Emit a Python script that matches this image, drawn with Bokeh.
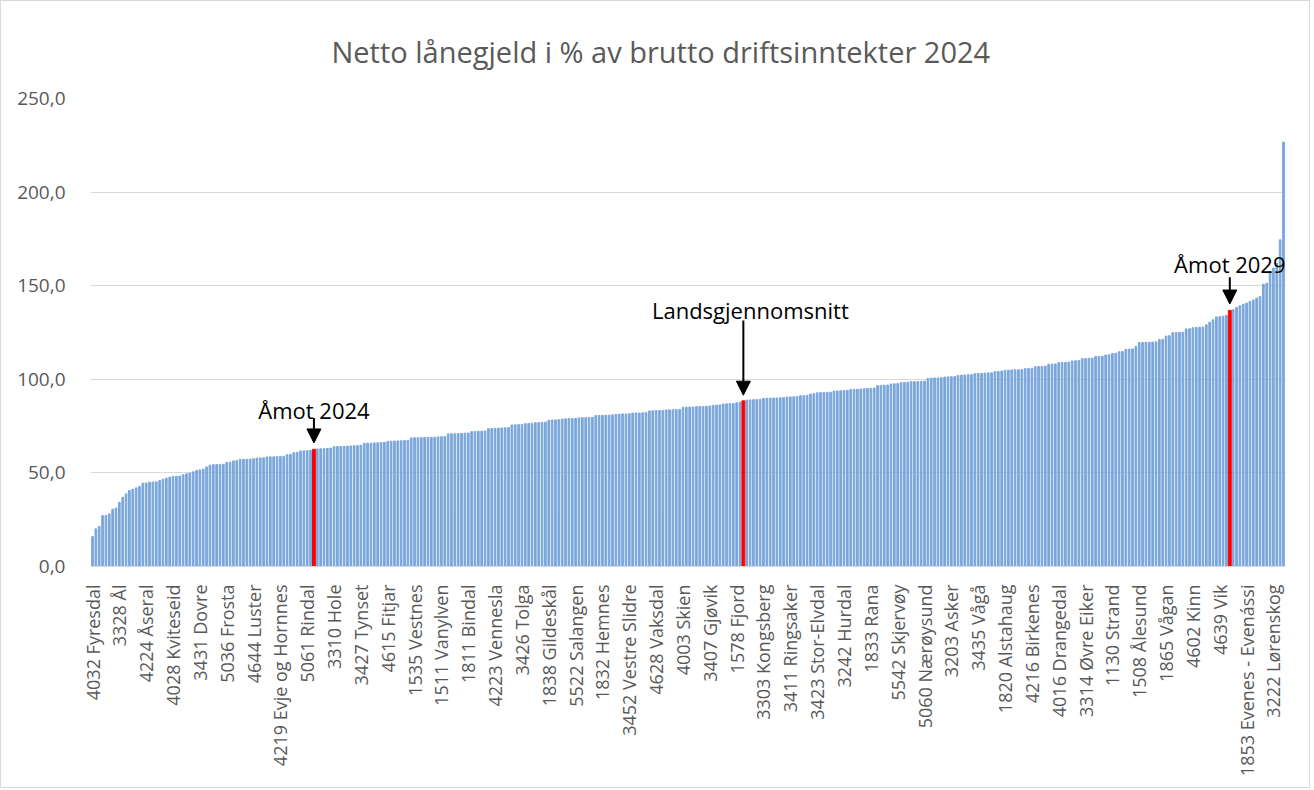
import math
from bokeh.plotting import figure
from bokeh.models import (Range1d, FixedTicker, Label, Arrow, NormalHead)
from bokeh.embed import file_html
from bokeh.resources import INLINE

title_text = "Netto lånegjeld i % av brutto driftsinntekter 2024"

# Sorted values (netto lånegjeld i % av brutto driftsinntekter), one per bar
values = [
    16.0, 20.1, 21.4, 27.2, 27.3, 28.1, 30.6, 31.2, 34.2, 37.0,
    38.8, 40.6, 41.3, 42.0, 42.7, 44.5, 44.6, 45.0, 45.1, 45.2,
    45.9, 46.6, 47.2, 47.7, 48.1, 48.2, 48.3, 49.0, 49.5, 49.9,
    50.6, 51.3, 51.6, 52.0, 53.2, 54.1, 54.4, 54.5, 54.5, 54.6,
    55.6, 55.7, 56.4, 56.6, 57.2, 57.3, 57.3, 57.4, 57.6, 57.9,
    58.0, 58.1, 58.5, 58.6, 58.6, 58.7, 58.8, 58.9, 59.7, 59.9,
    60.8, 61.0, 61.7, 61.8, 61.9, 62.1, 62.6, 62.8, 62.9, 63.0,
    63.1, 63.3, 64.0, 64.1, 64.1, 64.2, 64.3, 64.4, 64.5, 64.6,
    64.8, 65.8, 65.9, 65.9, 66.0, 66.1, 66.2, 66.3, 66.8, 66.9,
    67.0, 67.1, 67.2, 67.3, 67.4, 68.7, 68.8, 68.8, 68.9, 68.9,
    69.0, 69.0, 69.1, 69.2, 69.3, 69.4, 70.8, 70.9, 70.9, 71.0,
    71.1, 71.2, 71.3, 72.0, 72.1, 72.2, 72.3, 72.4, 73.6, 73.7,
    73.8, 73.9, 74.0, 74.1, 74.2, 75.6, 75.7, 75.8, 75.9, 76.3,
    76.4, 76.5, 76.8, 76.9, 77.0, 77.1, 78.1, 78.2, 78.3, 78.4,
    78.8, 78.9, 79.0, 79.0, 79.1, 79.4, 79.5, 79.5, 79.6, 79.7,
    80.6, 80.7, 80.7, 80.8, 80.9, 81.0, 81.3, 81.4, 81.5, 81.5,
    81.6, 81.9, 82.0, 82.0, 82.1, 82.2, 83.1, 83.2, 83.3, 83.3,
    83.4, 83.6, 83.7, 83.8, 83.8, 83.9, 85.0, 85.1, 85.2, 85.2,
    85.4, 85.5, 85.5, 85.6, 85.7, 86.1, 86.2, 86.3, 86.8, 86.9,
    87.0, 87.0, 87.5, 87.7, 88.5, 88.9, 89.0, 89.1, 89.2, 89.3,
    89.8, 89.9, 89.9, 90.0, 90.0, 90.1, 90.2, 90.5, 90.6, 90.7,
    90.8, 91.2, 91.3, 91.4, 92.1, 92.3, 92.8, 92.9, 93.0, 93.0,
    93.1, 93.7, 93.8, 93.9, 94.0, 94.1, 94.5, 94.6, 94.7, 94.8,
    95.0, 95.1, 95.2, 95.3, 96.6, 96.7, 96.8, 96.9, 97.5, 97.6,
    97.7, 98.2, 98.3, 98.4, 98.7, 98.8, 98.8, 98.9, 99.0, 100.5,
    100.6, 100.7, 100.7, 100.8, 101.2, 101.3, 101.4, 101.5, 102.1, 102.2,
    102.3, 102.4, 102.5, 103.0, 103.1, 103.2, 103.3, 103.4, 103.5, 104.1,
    104.2, 104.4, 104.8, 104.9, 105.0, 105.1, 105.1, 105.2, 105.7, 105.8,
    105.9, 106.7, 106.8, 106.9, 107.0, 108.0, 108.1, 108.2, 108.9, 109.0,
    109.1, 109.2, 109.8, 109.9, 110.0, 111.0, 111.1, 111.2, 111.3, 112.1,
    112.2, 112.3, 113.0, 113.1, 113.8, 113.9, 114.7, 114.8, 116.0, 116.1,
    116.2, 117.5, 119.6, 119.7, 119.8, 119.8, 119.9, 120.0, 121.2, 121.4,
    123.1, 123.3, 124.9, 125.0, 125.1, 125.2, 126.9, 127.0, 127.6, 127.7,
    127.8, 127.9, 129.1, 130.5, 131.8, 133.3, 133.5, 133.7, 134.2, 136.8,
    137.2, 138.4, 139.3, 140.1, 140.7, 141.6, 142.4, 143.3, 144.2, 150.8,
    151.3, 157.6, 159.4, 162.0, 174.5, 226.7,
]

# Every 8th category is labelled on the axis
tick_labels = [
    "4032 Fyresdal", "3328 Ål", "4224 Åseral", "4028 Kviteseid", "3431 Dovre",
    "5036 Frosta", "4644 Luster", "4219 Evje og Hornnes", "5061 Rindal", "3310 Hole",
    "3427 Tynset", "4615 Fitjar", "1535 Vestnes", "1511 Vanylven", "1811 Bindal",
    "4223 Vennesla", "3426 Tolga", "1838 Gildeskål", "5522 Salangen", "1832 Hemnes",
    "3452 Vestre Slidre", "4628 Vaksdal", "4003 Skien", "3407 Gjøvik", "1578 Fjord",
    "3303 Kongsberg", "3411 Ringsaker", "3423 Stor-Elvdal", "3242 Hurdal", "1833 Rana",
    "5542 Skjervøy", "5060 Nærøysund", "3203 Asker", "3435 Vågå", "1820 Alstahaug",
    "4216 Birkenes", "4016 Drangedal", "3314 Øvre Eiker", "1130 Strand", "1508 Ålesund",
    "1865 Vågan", "4602 Kinn", "4639 Vik", "1853 Evenes - Evenássi", "3222 Lørenskog",
]
label_step = 8

# Highlighted bars: position in sorted order -> annotation text
highlight_idx = [66, 194, 339]
highlight_names = ["Åmot 2024", "Landsgjennomsnitt", "Åmot 2029"]

y_ticks = [0, 50, 100, 150, 200, 250]
y_tick_labels = ["0,0", "50,0", "100,0", "150,0", "200,0", "250,0"]

FONT = "Open Sans"
GREY = "#595959"

n = len(values)
idx = list(range(n))
blue_x = [i for i in idx if i not in highlight_idx]
blue_top = [values[i] for i in blue_x]
red_top = [values[i] for i in highlight_idx]

p = figure(width=1310, height=788, output_backend="svg", toolbar_location=None,
           x_range=Range1d(-0.6, n - 1 + 0.6), y_range=Range1d(0, 250),
           min_border_left=89, min_border_right=26, min_border_top=97, min_border_bottom=223)
p.styles = {"border": "1px solid #d9d9d9", "box-sizing": "border-box"}

p.vbar(x=blue_x, top=blue_top, width=0.5, color="#7AA6DB")
p.vbar(x=highlight_idx, top=red_top, width=0.85, color="#FF0000")

p.title.text = title_text
p.title.text_font = FONT
p.title.text_font_size = "29px"
p.title.text_font_style = "normal"
p.title.text_color = GREY
p.title.align = "left"
p.title.offset = 241
p.title.standoff = 55

p.outline_line_color = None
p.background_fill_color = "white"
p.border_fill_color = "white"

p.xgrid.grid_line_color = None
p.ygrid.grid_line_color = "#d9d9d9"
p.ygrid.grid_line_width = 1
p.ygrid.ticker = FixedTicker(ticks=y_ticks)

yax = p.yaxis[0]
yax.ticker = FixedTicker(ticks=y_ticks)
yax.major_label_overrides = {t: s for t, s in zip(y_ticks, y_tick_labels)}
yax.axis_line_color = None
yax.major_tick_line_color = None
yax.minor_tick_line_color = None
yax.major_label_text_font = FONT
yax.major_label_text_font_size = "19px"
yax.major_label_text_color = GREY
yax.major_label_standoff = 19

xticks = list(range(0, n, label_step))[:len(tick_labels)]
xax = p.xaxis[0]
xax.ticker = FixedTicker(ticks=xticks)
xax.major_label_overrides = {t: s for t, s in zip(xticks, tick_labels)}
xax.major_label_orientation = math.pi / 2
xax.axis_line_color = "#d9d9d9"
xax.major_tick_line_color = None
xax.minor_tick_line_color = None
xax.major_label_text_font = FONT
xax.major_label_text_font_size = "18px"
xax.major_label_text_color = GREY
xax.major_label_standoff = 12

# annotations: offsets (data units) above the highlighted bar
text_gap = [20.8, 48.3, 24.7]
arrow_start_gap = [16.7, 42.9, 17.7]
arrow_end_gap = [3.4, 3.0, 3.4]
text_dx = [0, 7, 0]
for i, name, tg, sg, eg, dx in zip(highlight_idx, highlight_names, text_gap,
                                   arrow_start_gap, arrow_end_gap, text_dx):
    v = values[i]
    p.add_layout(Label(x=i, y=v + tg, text=name, text_align="center",
                       text_baseline="alphabetic", x_offset=dx,
                       text_font=FONT, text_font_size="22px", text_color="black"))
    p.add_layout(Arrow(x_start=i, y_start=v + sg, x_end=i, y_end=v + eg,
                       line_color="black", line_width=2,
                       end=NormalHead(size=14, fill_color="black", line_color="black",
                                      line_width=1)))

open("out.html", "w").write(file_html(p, INLINE))
